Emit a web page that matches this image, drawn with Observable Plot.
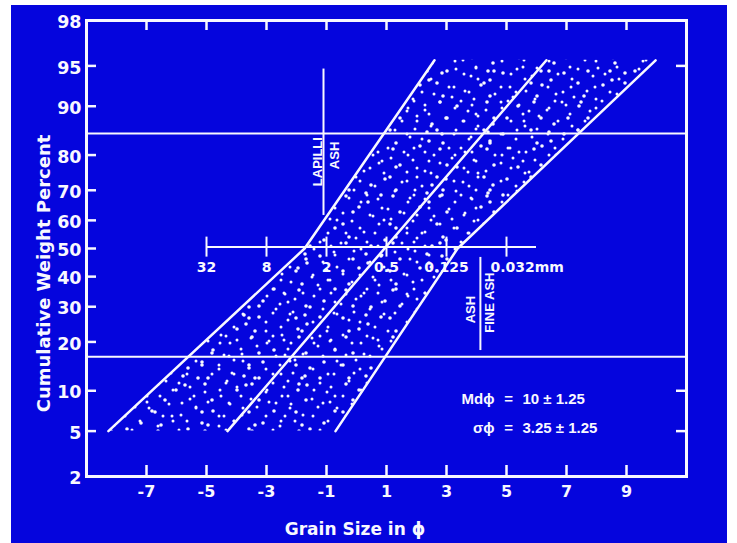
<!DOCTYPE html>
<html><head><meta charset="utf-8">
<script src="https://cdn.jsdelivr.net/npm/d3@7"></script>
<script src="https://cdn.jsdelivr.net/npm/@observablehq/plot@0.6"></script>
<style>
html,body{margin:0;padding:0;background:#fff;width:737px;height:543px;overflow:hidden}
#chart{position:absolute;left:11px;top:5px;width:716px;height:538px;background:#0505dd}
</style></head><body><div id="chart"></div>
<script>
// ---- data ----
const yTickPct = [2,5,10,20,30,40,50,60,70,80,90,95,98];
const yInnerTickPct = [5,10,20,30,40,50,60,70,80,90,95];
const yRightTickPct = [5,10,95];
const xTicks = [-7,-5,-3,-1,1,3,5,7,9];
const bandPct = [5,50,95.5];
const leftPhi = [-8.27,-1.73,2.6];
const rightPhi = [-0.7,3.37,9.97];
const medianPct = [5,95.5];
const medianPhi = [-4.3,6.33];
const limitPct = [16.5,85];
const mmPhi = [-5,-3,-1,1,3,5];
const mmLabels = ["32","8","2","0.5","0.125","0.032mm"];
const mmScalePct = 50.5;
const mmScaleEnds = [-5,6];
const lapilliPhi = -1.1, lapilliPct = [61.7,94.7];
const fineAshPhi = 4.13, fineAshPct = [17.9,46.8];
const divideLabels = ["LAPILLI","ASH","ASH","FINE ASH"];
const divideLabelPhi = [-1.3,-0.73,3.8,4.43];
const divideLabelPct = [78.3,79.9,29.1,31.3];
const statLabels = ["Md\u03D5","\u03C3\u03D5"];
const statValues = ["10 \u00B1 1.25","3.25 \u00B1 1.25"];
const statPct = [8.8,5.3];

// probability (probit) transform
function probit(p){
 const a=[-3.969683028665376e+01,2.209460984245205e+02,-2.759285104469687e+02,1.383577518672690e+02,-3.066479806614716e+01,2.506628277459239e+00];
 const b=[-5.447609879822406e+01,1.615858368580409e+02,-1.556989798598866e+02,6.680131188771972e+01,-1.328068155288572e+01];
 const c=[-7.784894002430293e-03,-3.223964580411365e-01,-2.400758277161838e+00,-2.549671010322100e+00,4.374664141464968e+00,2.938163982698783e+00];
 const d=[7.784695709041462e-03,3.224671290700398e-01,2.445134137142996e+00,3.754408661907416e+00];
 const pl=0.02425; let q,r;
 if(p<pl){q=Math.sqrt(-2*Math.log(p));return (((((c[0]*q+c[1])*q+c[2])*q+c[3])*q+c[4])*q+c[5])/((((d[0]*q+d[1])*q+d[2])*q+d[3])*q+1);}
 if(p>1-pl){q=Math.sqrt(-2*Math.log(1-p));return -(((((c[0]*q+c[1])*q+c[2])*q+c[3])*q+c[4])*q+c[5])/((((d[0]*q+d[1])*q+d[2])*q+d[3])*q+1);}
 q=p-0.5;r=q*q;return (((((a[0]*r+a[1])*r+a[2])*r+a[3])*r+a[4])*r+a[5])*q/(((((b[0]*r+b[1])*r+b[2])*r+b[3])*r+b[4])*r+1);
}
const z = pct => probit(pct/100);

const W = "#f8f8ff";
const xDom = [-9, 11], yDom = [z(2), z(98)];
const width = 716, height = 538, mL = 75, mR = 41, mT = 15, mB = 67;
const pxX = (xDom[1]-xDom[0])/(width-mL-mR);
const pxY = (yDom[1]-yDom[0])/(height-mT-mB);

const band = bandPct.map((p,i)=>({p, l:leftPhi[i], r:rightPhi[i]}));
const leftLine = bandPct.map((p,i)=>({p, phi:leftPhi[i]}));
const rightLine = bandPct.map((p,i)=>({p, phi:rightPhi[i]}));
const midLine = medianPct.map((p,i)=>({p, phi:medianPhi[i]}));

const DJ = "DejaVu Sans", LS = "Liberation Sans";

const svg = Plot.plot({
  width, height, marginLeft: mL, marginRight: mR, marginTop: mT, marginBottom: mB,
  style: {background: "transparent", color: W, overflow: "visible"},
  x: {domain: xDom, axis: null},
  y: {domain: yDom, axis: null},
  marks: [
    Plot.areaX(band, {y: d=>z(d.p), x1: "l", x2: "r", fill: "url(#stippleA)"}),
    Plot.areaX(band, {y: d=>z(d.p), x1: "l", x2: "r", fill: "url(#stippleB)"}),
    Plot.line(leftLine, {x: "phi", y: d=>z(d.p), stroke: W, strokeWidth: 2.5}),
    Plot.line(rightLine, {x: "phi", y: d=>z(d.p), stroke: W, strokeWidth: 2.5}),
    Plot.line(midLine, {x: "phi", y: d=>z(d.p), stroke: W, strokeWidth: 2.5}),
    Plot.ruleY(limitPct, {y: d=>z(d), stroke: W, strokeWidth: 2}),
    Plot.ruleY([mmScalePct], {y: d=>z(d), x1: ()=>mmScaleEnds[0], x2: ()=>mmScaleEnds[1], stroke: W, strokeWidth: 2}),
    Plot.ruleX(mmPhi, {x: d=>d, y1: ()=>z(mmScalePct)-10*pxY, y2: ()=>z(mmScalePct)+10*pxY, stroke: W, strokeWidth: 2}),
    Plot.text(mmLabels.slice(0,5), {x: (d,i)=>mmPhi[i], y: ()=>z(mmScalePct), dy: 20, text: d=>d, fill: W, fontFamily: DJ, fontWeight: "bold", fontSize: 14}),
    Plot.text([mmLabels[5]], {x: ()=>mmPhi[5], y: ()=>z(mmScalePct), dy: 20, dx: -16, textAnchor: "start", text: d=>d, fill: W, fontFamily: DJ, fontWeight: "bold", fontSize: 14}),
    Plot.ruleX([lapilliPhi], {x: d=>d, y1: ()=>z(lapilliPct[0]), y2: ()=>z(lapilliPct[1]), stroke: W, strokeWidth: 2}),
    Plot.ruleX([fineAshPhi], {x: d=>d, y1: ()=>z(fineAshPct[0]), y2: ()=>z(fineAshPct[1]), stroke: W, strokeWidth: 2}),
    Plot.text(divideLabels, {x: (d,i)=>divideLabelPhi[i], y: (d,i)=>z(divideLabelPct[i]), text: d=>d, rotate: -90, fill: W, fontFamily: LS, fontWeight: "bold", fontSize: 13}),
    Plot.text(statLabels, {x: ()=>4.6, y: (d,i)=>z(statPct[i]), text: d=>d, textAnchor: "end", fill: W, fontFamily: LS, fontWeight: "bold", fontSize: 15}),
    Plot.text(statLabels.map(()=>"="), {x: ()=>5.07, y: (d,i)=>z(statPct[i]), text: d=>d, fill: W, fontFamily: LS, fontWeight: "bold", fontSize: 15}),
    Plot.text(statValues, {x: ()=>5.53, y: (d,i)=>z(statPct[i]), text: d=>d, textAnchor: "start", fill: W, fontFamily: LS, fontWeight: "bold", fontSize: 15}),
    // axes ticks (inward)
    Plot.ruleY(yInnerTickPct, {y: d=>z(d), x1: ()=>xDom[0], x2: ()=>xDom[0]+10*pxX, stroke: W, strokeWidth: 2.5}),
    Plot.ruleY(yRightTickPct, {y: d=>z(d), x1: ()=>xDom[1], x2: ()=>xDom[1]-10*pxX, stroke: W, strokeWidth: 2.5}),
    Plot.ruleX(xTicks, {x: d=>d, y1: ()=>yDom[0], y2: ()=>yDom[0]+11*pxY, stroke: W, strokeWidth: 2.5}),
    Plot.ruleX(xTicks, {x: d=>d, y1: ()=>yDom[1], y2: ()=>yDom[1]-10*pxY, stroke: W, strokeWidth: 2.5}),
    Plot.text(yTickPct, {x: ()=>xDom[0], y: d=>z(d), dx: -5, dy: 2, text: d=>String(d), textAnchor: "end", fill: W, fontFamily: DJ, fontWeight: "bold", fontSize: 17.5}),
    Plot.text(xTicks, {x: d=>d, y: ()=>yDom[0], dy: 15, text: d=>String(d), fill: W, fontFamily: DJ, fontWeight: "bold", fontSize: 16}),
    Plot.text(["Cumulative Weight Percent"], {frameAnchor: "left", y: ()=>z(41.1), dx: -42.5, rotate: -90, textAnchor: "middle", text: d=>d, fill: W, fontFamily: DJ, fontWeight: "bold", fontSize: 18}),
    Plot.text(["Grain Size in \u03D5"], {x: ()=>-0.05, frameAnchor: "bottom", dy: 58, text: d=>d, fill: W, fontFamily: DJ, fontWeight: "bold", fontSize: 17}),
    Plot.frame({stroke: W, strokeWidth: 3})
  ]
});

// stipple textures for the band (two overlapping tiles of different size)
const NS = "http://www.w3.org/2000/svg";
const defs = document.createElementNS(NS, "defs");
function addPattern(id, size, pts){
  const pat = document.createElementNS(NS, "pattern");
  pat.setAttribute("id", id);
  pat.setAttribute("patternUnits", "userSpaceOnUse");
  pat.setAttribute("width", size); pat.setAttribute("height", size);
  pts.forEach(([cx,cy],i)=>{
    const c = document.createElementNS(NS, "circle");
    c.setAttribute("cx", cx); c.setAttribute("cy", cy);
    c.setAttribute("r", i%3===0 ? 1.8 : 1.5);
    c.setAttribute("fill", W);
    pat.appendChild(c);
  });
  defs.appendChild(pat);
}
addPattern("stippleA", 61, [[4,7],[18,3],[33,10],[50,5],[11,21],[27,25],[43,19],[57,28],[2,36],[19,40],
  [36,33],[48,44],[8,52],[25,55],[40,50],[55,58],[30,45],[14,31],[52,14],[38,2]]);
addPattern("stippleB", 47, [[6,3],[21,9],[38,6],[13,19],[30,22],[44,27],[3,31],[20,35],[35,40],[9,44],[27,2],[42,15]]);
svg.insertBefore(defs, svg.firstChild);
document.getElementById("chart").appendChild(svg);
</script>
</body></html>
